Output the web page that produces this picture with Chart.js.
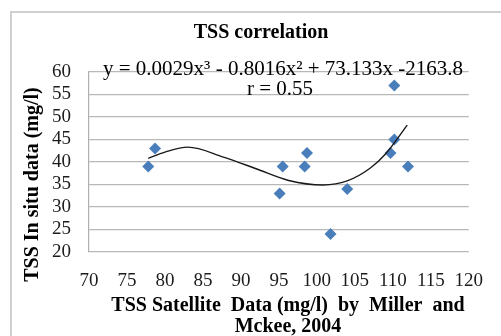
<!DOCTYPE html>
<html><head><meta charset="utf-8">
<script src="https://cdn.jsdelivr.net/npm/chart.js@4"></script>
<style>
html,body{margin:0;padding:0;background:#fff;overflow:hidden}
#wrap{position:relative;width:501px;height:336px;overflow:hidden;background:#fff}
#frame{position:absolute;left:10px;top:11px;width:600px;height:400px;border:2px solid #d0d0d0;box-sizing:border-box}
#c{position:absolute;left:0;top:0}
</style></head><body>
<div id="wrap"><div id="frame"></div><canvas id="c" width="501" height="336"></canvas></div>
<script>
const chartTitle = 'TSS correlation';
const equationText = 'y = 0.0029x³ - 0.8016x² + 73.133x -2163.8';
const rText = 'r = 0.55';
const xTitleLines = ['TSS Satellite  Data (mg/l)  by  Miller  and', 'Mckee, 2004'];
const yTitleText = 'TSS In situ data (mg/l)';

const satelliteTSS = [77.8, 78.7, 95.1, 95.5, 98.4, 98.7, 101.8, 104.0, 109.7, 110.2, 110.2, 112.0];
const inSituTSS    = [39, 43, 33, 39, 39, 42, 24, 34, 42, 45, 57, 39];

const trendX = [77.8, 80, 83, 87.7, 92, 96.3, 100.8, 104, 107, 109.1, 111.9];
const trendY = [40.8, 42.2, 43.3, 41.1, 38.5, 35.9, 34.9, 35.8, 38.6, 41.9, 48.2];

const xTicks = [70, 75, 80, 85, 90, 95, 100, 105, 110, 115, 120];
const yTicks = [20, 25, 30, 35, 40, 45, 50, 55, 60];

const serif = '"Liberation Serif", "Times New Roman", serif';

const textPlugin = {
  id: 'texts',
  afterDraw(chart) {
    const ctx = chart.ctx;
    ctx.save();
    ctx.fillStyle = '#000';
    ctx.textAlign = 'center';
    ctx.textBaseline = 'alphabetic';
    ctx.font = 'bold 20px ' + serif;
    ctx.fillText(chartTitle, 261, 38);
    ctx.font = '21px ' + serif;
    ctx.fillText(equationText, 283, 74.5);
    ctx.fillText(rText, 280, 94.5);
    ctx.font = 'bold 20px ' + serif;
    ctx.fillText(xTitleLines[0], 288, 311);
    ctx.fillText(xTitleLines[1], 288, 332);
    ctx.translate(38, 184.5);
    ctx.rotate(-Math.PI / 2);
    ctx.fillText(yTitleText, 0, 0);
    ctx.restore();
  }
};

new Chart(document.getElementById('c'), {
  type: 'scatter',
  data: {
    datasets: [
      {
        type: 'line',
        data: trendX.map((x, i) => ({x: x, y: trendY[i]})),
        borderColor: '#1a1a1a',
        borderWidth: 1.4,
        pointRadius: 0,
        fill: false,
        cubicInterpolationMode: 'monotone'
      },
      {
        data: satelliteTSS.map((x, i) => ({x: x, y: inSituTSS[i]})),
        pointStyle: 'rectRot',
        pointRadius: 6,
        backgroundColor: '#4a7ebb',
        borderColor: '#4a7ebb',
        borderWidth: 0
      }
    ]
  },
  options: {
    responsive: false,
    animation: false,
    devicePixelRatio: 1,
    layout: {padding: {top: 72, right: 23, bottom: 0, left: 0}},
    plugins: {legend: {display: false}, tooltip: {enabled: false}, title: {display: false}},
    scales: {
      x: {
        type: 'linear',
        min: xTicks[0], max: xTicks[xTicks.length - 1],
        ticks: {stepSize: xTicks[1] - xTicks[0], autoSkip: false, color: '#1c1c1c', font: {family: serif, size: 19}, padding: 18, maxRotation: 0},
        grid: {display: false, drawTicks: false},
        border: {display: false},
        afterFit(s) { s.height = 84; }
      },
      y: {
        type: 'linear',
        min: yTicks[0], max: yTicks[yTicks.length - 1],
        ticks: {stepSize: yTicks[1] - yTicks[0], autoSkip: false, color: '#1c1c1c', font: {family: serif, size: 19}, padding: 18},
        grid: {color: '#b8b8b8', lineWidth: 1.2, drawTicks: false},
        border: {display: true, color: '#b0b0b0', width: 1.2},
        afterFit(s) { s.width = 89; }
      }
    }
  },
  plugins: [textPlugin]
});
</script>
</body></html>
